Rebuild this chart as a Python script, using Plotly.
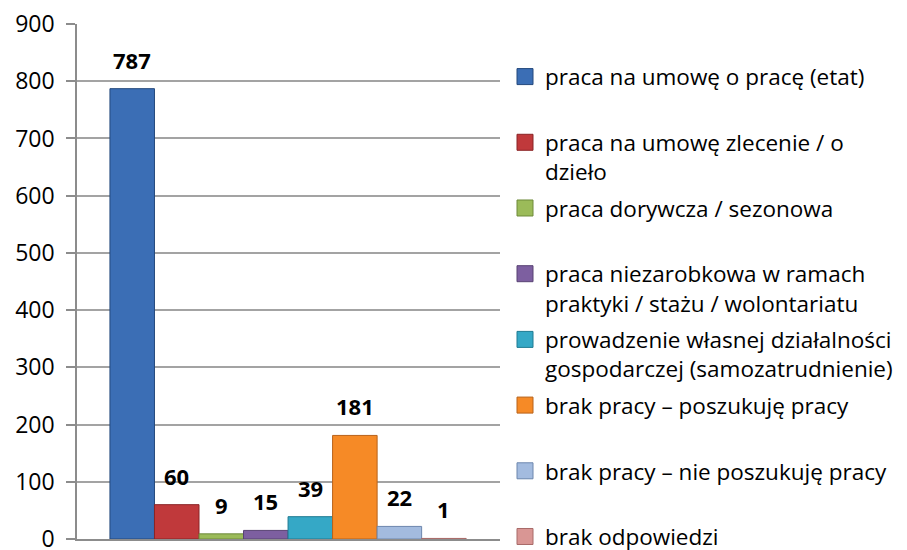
import plotly.graph_objects as go

categories = [
    "praca na umowę o pracę (etat)",
    "praca na umowę zlecenie / o<br>dzieło",
    "praca dorywcza / sezonowa",
    "praca niezarobkowa w ramach<br>praktyki / stażu / wolontariatu",
    "prowadzenie własnej działalności<br>gospodarczej (samozatrudnienie)",
    "brak pracy – poszukuję pracy",
    "brak pracy – nie poszukuję pracy",
    "brak odpowiedzi",
]
values = [787, 60, 9, 15, 39, 181, 22, 1]
colors = ["#3b6eb5", "#c0393b", "#9bbb59", "#7d5fa0", "#35a8c6", "#f68a26", "#a3bbdf", "#d99694"]
edges = ["#24497d", "#8a2426", "#6e8a3a", "#584273", "#1f7a92", "#b8621a", "#6c86ad", "#a86a68"]
y_ticks = [0, 100, 200, 300, 400, 500, 600, 700, 800, 900]

FONT = "Open Sans"
n = len(values)
idx = list(range(n))

fig = go.Figure()
fig.add_trace(go.Bar(
    x=idx, y=values, width=1.0,
    marker=dict(color=colors, line=dict(color=edges, width=1)),
    showlegend=False, hoverinfo="skip",
))

for i, name in enumerate(categories):
    label = name if ("<br>" in name or i == n - 1) else name + "<br> "
    fig.add_trace(go.Scatter(
        x=[None], y=[None], mode="markers", name=label,
        legendgroup=f"g{i}",
        marker=dict(symbol="square", size=16, color=colors[i],
                    line=dict(color=edges[i], width=1)),
    ))

for i, v in enumerate(values):
    fig.add_annotation(
        x=i, y=v, text=f"<b>{v}</b>", showarrow=False,
        yanchor="bottom", yshift=12,
        font=dict(family=FONT, size=22, color="black"),
    )

fig.update_layout(
    width=907, height=550,
    margin=dict(l=77, r=407, t=23.5, b=11, autoexpand=False),
    paper_bgcolor="white", plot_bgcolor="white",
    barmode="overlay",
    font=dict(family=FONT, size=22, color="black"),
    showlegend=True,
    legend=dict(
        xref="container", yref="paper",
        x=505 / 907, y=0.9389, xanchor="left", yanchor="top",
        traceorder="grouped", tracegroupgap=4.2, valign="top",
        font=dict(family=FONT, size=22.5, color="black"),
        bgcolor="rgba(0,0,0,0)",
    ),
    xaxis=dict(
        range=[-1.24, n - 1 + 1.26], showticklabels=False, showgrid=False,
        zeroline=False, showline=True, linecolor="#8c8c8c", linewidth=1.5,
        ticks="",
    ),
    yaxis=dict(
        range=[0, 900], tickvals=y_ticks, showgrid=True, gridcolor="#a3a3a3",
        gridwidth=1.5, zeroline=False, showline=True, linecolor="#8c8c8c",
        linewidth=1.5, ticks="outside", ticklen=9, tickcolor="#8c8c8c",
        tickwidth=1.5, tickfont=dict(family=FONT, size=23, color="black"),
        ticklabelstandoff=7, ticklabeloverflow="allow",
    ),
)

fig.write_html("out.html", config={"displayModeBar": False},
               post_script="document.body.style.margin='0';")
